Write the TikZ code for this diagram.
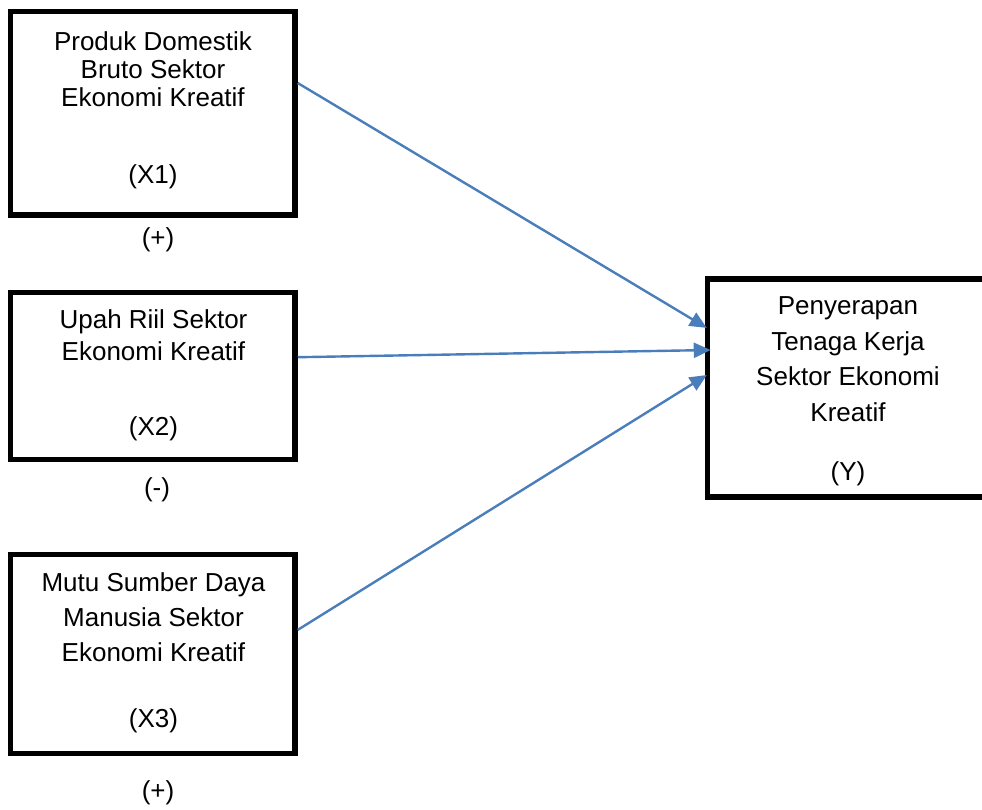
\documentclass[tikz,border=0pt]{standalone}
\usepackage{fontspec}
\setmainfont{Liberation Sans}
\usetikzlibrary{arrows.meta,calc}
\definecolor{arrowblue}{HTML}{4A7EBB}
\begin{document}
\begin{tikzpicture}[x=1pt,y=-1pt,
  box/.style={draw=black,line width=5.5pt,rectangle,inner sep=0pt,fill=none},
  txt/.style={align=center,inner sep=0pt,text=black},
  sign/.style={inner sep=0pt,text=black,font=\fontsize{26}{28}\selectfont},
  conn/.style={draw=arrowblue,line width=2.4pt,-{Triangle[length=17pt,width=15pt]}}]
\useasboundingbox (0,0) rectangle (982,809);
\clip (0,0) rectangle (982,809);
% boxes
\node[box,minimum width=284.5pt,minimum height=203.7pt] (b1) at (152.75,113.15) {};
\node[box,minimum width=284.5pt,minimum height=167pt] (b2) at (152.75,376) {};
\node[box,minimum width=284.5pt,minimum height=199pt] (b3) at (152.75,654) {};
\node[box,minimum width=281pt,minimum height=218pt] (by) at (848,388) {};
% texts
\node[txt,font=\fontsize{26}{28}\selectfont] (t1) at (153,110.3)
  {Produk Domestik\\Bruto Sektor\\Ekonomi Kreatif\\[48.5pt](X1)};
\node[txt,font=\fontsize{26}{32}\selectfont] (t2) at (153.5,375.2)
  {Upah Riil Sektor\\Ekonomi Kreatif\\[43pt](X2)};
\node[txt,font=\fontsize{26}{35}\selectfont] (t3) at (153.5,653)
  {Mutu Sumber Daya\\Manusia Sektor\\Ekonomi Kreatif\\[30.5pt](X3)};
\node[txt,font=\fontsize{26}{35.5}\selectfont] (ty) at (848,391.7)
  {Penyerapan\\Tenaga Kerja\\Sektor Ekonomi\\Kreatif\\[24pt](Y)};
% signs
\node[sign] (s1) at (158,240) {(+)};
\node[sign] (s2) at (157,490) {(-)};
\node[sign] (s3) at (158,793) {(+)};
% connectors
\draw[conn] ($(b1.north east)!0.356!(b1.south east)$) -- ($($(by.north west)!0.231!(by.south west)$)+(2,0)$);
\draw[conn] ($(b2.north east)!0.391!(b2.south east)$) -- ($($(by.north west)!0.330!(by.south west)$)+(6,0)$);
\draw[conn] ($(b3.north east)!0.382!(b3.south east)$) -- ($($(by.north west)!0.442!(by.south west)$)+(2,0)$);
\end{tikzpicture}
\end{document}
